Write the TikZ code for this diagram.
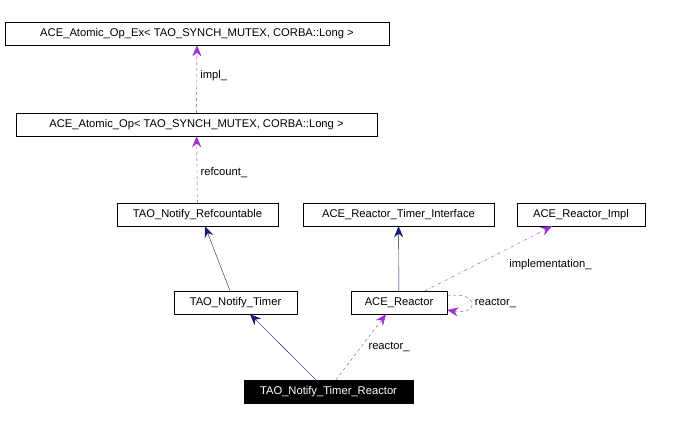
\documentclass[tikz,border=0pt]{standalone}
\usepackage{fontspec}
\setmainfont{Liberation Sans}
\usetikzlibrary{positioning,arrows.meta}
\definecolor{navy}{RGB}{25,25,112}
\definecolor{lilac}{RGB}{154,50,205}
\tikzset{
  cls/.style={draw,inner sep=0pt,minimum height=23pt,font=\fontsize{11.2}{13}\selectfont},
  inh/.style={draw=navy,-{Stealth[length=11pt,width=9pt]}},
  use/.style={draw=lilac,dashed,-{Stealth[length=11pt,width=9pt]}},
  lbl/.style={font=\fontsize{11.2}{13}\selectfont}
}
\begin{document}
\begin{tikzpicture}[x=1pt,y=-1pt]
  \useasboundingbox (0,0) rectangle (686,424);
  \node[cls,minimum width=384pt] (opex) at (197,33.5) {ACE\_Atomic\_Op\_Ex< TAO\_SYNCH\_MUTEX, CORBA::Long >};
  \node[cls,minimum width=361pt] (op) at (196.5,124.5) {ACE\_Atomic\_Op< TAO\_SYNCH\_MUTEX, CORBA::Long >};
  \node[cls,minimum width=161pt] (refc) at (197.5,214.5) {TAO\_Notify\_Refcountable};
  \node[cls,minimum width=191pt] (rti) at (398.5,214.5) {ACE\_Reactor\_Timer\_Interface};
  \node[cls,minimum width=128pt] (rimpl) at (581,214.5) {ACE\_Reactor\_Impl};
  \node[cls,minimum width=123pt] (timer) at (235.5,302.5) {TAO\_Notify\_Timer};
  \node[cls,minimum width=96pt] (reactor) at (399,302.5) {ACE\_Reactor};
  \node[cls,minimum width=169pt,fill=black,text=white] (tr) at (328.5,391.5) {TAO\_Notify\_Timer\_Reactor};
  % inheritance
  \draw[inh] (timer.north -| 230,0) -- (refc.south -| 205,0);
  \draw[inh] (reactor) -- (rti);
  \draw[inh] (tr.north -| 316,0) -- (timer.south -| 250,0);
  % members
  \draw[use] (op) -- node[lbl,right,pos=0.55] {impl\_} (opex);
  \draw[use] (refc) -- node[lbl,right,pos=0.45] {refcount\_} (op);
  \draw[use,dash dot] (reactor.north -| 425,0) -- node[lbl,right,pos=0.4,xshift=30pt] {implementation\_} (rimpl.south -| 552,0);
  \draw[use] (tr.north -| 336,0) -- node[lbl,right,pos=0.5,xshift=4pt] {reactor\_} (reactor.south -| 386,0);
  \draw[use] (reactor.east |- 0,296) to[out=10,in=-10,looseness=6] node[lbl,right] {reactor\_} (reactor.east |- 0,310);
\end{tikzpicture}
\end{document}
